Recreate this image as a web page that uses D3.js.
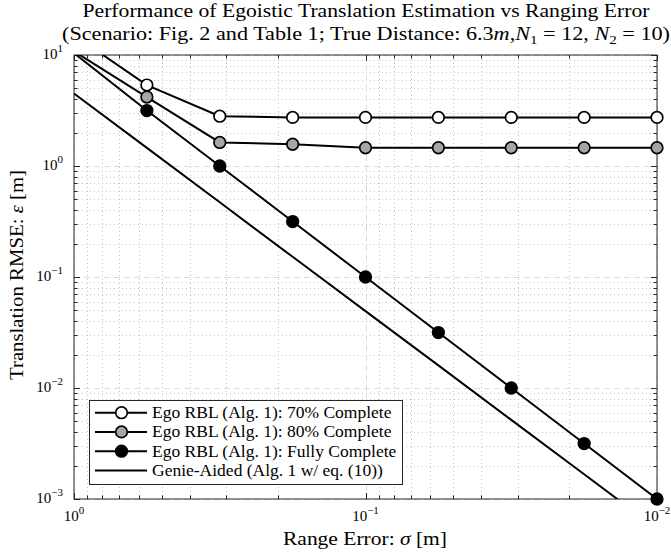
<!DOCTYPE html>
<html>
<head>
<meta charset="utf-8">
<script src="https://cdn.jsdelivr.net/npm/d3@7"></script>
<style>
  body { margin: 0; background: #fff; }
  text { font-family: "Liberation Serif", serif; fill: #000; }
</style>
</head>
<body>
<svg id="chart" width="671" height="556"></svg>
<script>
// sigma values on the x axis (range error, m)
var sigma = [1, 0.5623, 0.3162, 0.1778, 0.1, 0.05623, 0.03162, 0.01778, 0.01];
var ego70 = [15.1, 5.36, 2.81, 2.74, 2.74, 2.74, 2.74, 2.74, 2.74];
var ego80 = [10.8, 4.18, 1.63, 1.57, 1.46, 1.46, 1.46, 1.46, 1.46];
var egoFull = [10.4, 3.16, 1.0, 0.316, 0.1, 0.0316, 0.01, 0.00316, 0.001];
var genie = [4.5, 1.455, 0.471, 0.152, 0.0493, 0.016, 0.00516, 0.00167, 0.00054];

var xTicks = [1, 0.1, 0.01];
var xTickExp = ['0', '\u22121', '\u22122'];
var yTicks = [10, 1, 0.1, 0.01, 0.001];
var yTickExp = ['1', '0', '\u22121', '\u22122', '\u22123'];

var legendNames = ['Ego RBL (Alg. 1): 70% Complete',
                   'Ego RBL (Alg. 1): 80% Complete',
                   'Ego RBL (Alg. 1): Fully Complete',
                   'Genie-Aided (Alg. 1 w/ eq. (10))'];

var series = [
    {values: ego70, fill: '#ffffff', marker: true},
    {values: ego80, fill: '#a6a6a6', marker: true},
    {values: egoFull, fill: '#000000', marker: true},
    {values: genie, fill: null, marker: false}
];

var pLeft = 74, pRight = 657, pTop = 55, pBottom = 499;
var axisColor = '#262626';

var svg = d3.select('#chart');

var x = d3.scaleLog().domain([1, 0.01]).range([pLeft, pRight]);
var y = d3.scaleLog().domain([10, 0.001]).range([pTop, pBottom]);

var xAll = x.ticks();
var yAll = y.ticks();
var isMajor = function(v) {
    var l = Math.log10(v);
    return Math.abs(l - Math.round(l)) < 1e-6;
};
var xMinor = xAll.filter(function(v) { return !isMajor(v); });
var yMinor = yAll.filter(function(v) { return !isMajor(v); });

// grid
var grid = svg.append('g');
grid.selectAll('.xminor').data(xMinor).enter().append('line')
    .attr('x1', function(d) { return Math.round(x(d)) + 0.5; })
    .attr('x2', function(d) { return Math.round(x(d)) + 0.5; })
    .attr('y1', pTop).attr('y2', pBottom)
    .attr('stroke', '#c4c4c4').attr('stroke-width', 1)
    .attr('stroke-dasharray', '1,3');
grid.selectAll('.yminor').data(yMinor).enter().append('line')
    .attr('y1', function(d) { return Math.round(y(d)) + 0.5; })
    .attr('y2', function(d) { return Math.round(y(d)) + 0.5; })
    .attr('x1', pLeft).attr('x2', pRight)
    .attr('stroke', '#c4c4c4').attr('stroke-width', 1)
    .attr('stroke-dasharray', '1,3');
grid.selectAll('.xmajor').data(xTicks).enter().append('line')
    .attr('x1', function(d) { return Math.round(x(d)) + 0.5; })
    .attr('x2', function(d) { return Math.round(x(d)) + 0.5; })
    .attr('y1', pTop).attr('y2', pBottom)
    .attr('stroke', '#dcdcdc').attr('stroke-width', 1)
    .attr('stroke-dasharray', '6,4');
grid.selectAll('.ymajor').data(yTicks).enter().append('line')
    .attr('y1', function(d) { return Math.round(y(d)) + 0.5; })
    .attr('y2', function(d) { return Math.round(y(d)) + 0.5; })
    .attr('x1', pLeft).attr('x2', pRight)
    .attr('stroke', '#dcdcdc').attr('stroke-width', 1)
    .attr('stroke-dasharray', '6,4');

// axes box and inward ticks
var ax = svg.append('g').attr('stroke', axisColor).attr('stroke-width', 1);
ax.append('rect').attr('x', pLeft).attr('y', pTop)
    .attr('width', pRight - pLeft).attr('height', pBottom - pTop)
    .attr('fill', 'none');
xAll.forEach(function(v) {
    var len = isMajor(v) ? 6 : 3.5;
    var px = Math.round(x(v)) + 0.5;
    ax.append('line').attr('x1', px).attr('x2', px).attr('y1', pBottom).attr('y2', pBottom - len);
    ax.append('line').attr('x1', px).attr('x2', px).attr('y1', pTop).attr('y2', pTop + len);
});
yAll.forEach(function(v) {
    var len = isMajor(v) ? 6 : 3.5;
    var py = Math.round(y(v)) + 0.5;
    ax.append('line').attr('y1', py).attr('y2', py).attr('x1', pLeft).attr('x2', pLeft + len);
    ax.append('line').attr('y1', py).attr('y2', py).attr('x1', pRight).attr('x2', pRight - len);
});

// tick labels
xTicks.forEach(function(v, i) {
    var t = svg.append('text').attr('x', x(v)).attr('y', 521)
        .attr('text-anchor', 'middle').attr('font-size', 15);
    t.append('tspan').text('10');
    t.append('tspan').attr('dy', -7).attr('font-size', 11).text(xTickExp[i]);
});
yTicks.forEach(function(v, i) {
    var t = svg.append('text').attr('x', 63).attr('y', y(v) + 4)
        .attr('text-anchor', 'end').attr('font-size', 15);
    t.append('tspan').text('10');
    t.append('tspan').attr('dy', -7).attr('font-size', 11).text(yTickExp[i]);
});

// data
svg.append('clipPath').attr('id', 'plotclip').append('rect')
    .attr('x', pLeft).attr('y', pTop).attr('width', pRight - pLeft).attr('height', pBottom - pTop);

var line = d3.line()
    .x(function(d, i) { return x(sigma[i]); })
    .y(function(d) { return y(d); });

var data = svg.append('g');
series.forEach(function(s) {
    data.append('path')
        .attr('d', line(s.values))
        .attr('clip-path', 'url(#plotclip)')
        .attr('fill', 'none')
        .attr('stroke', '#000')
        .attr('stroke-width', 2);
});
series.forEach(function(s) {
    if (!s.marker) return;
    var pts = s.values.map(function(v, i) { return [sigma[i], v]; })
        .filter(function(p) { return p[1] <= 10 && p[1] >= 0.001; });
    data.selectAll(null).data(pts).enter().append('circle')
        .attr('cx', function(d) { return x(d[0]); })
        .attr('cy', function(d) { return y(d[1]); })
        .attr('r', 5.8)
        .attr('fill', s.fill)
        .attr('stroke', '#000')
        .attr('stroke-width', 1.7);
});

// titles
var t1 = svg.append('text').attr('x', 366).attr('y', 17)
    .attr('text-anchor', 'middle').attr('font-size', 19)
    .attr('textLength', 567).attr('lengthAdjust', 'spacingAndGlyphs')
    .text('Performance of Egoistic Translation Estimation vs Ranging Error');
var t2 = svg.append('text').attr('x', 366).attr('y', 40)
    .attr('text-anchor', 'middle').attr('font-size', 19)
    .attr('textLength', 608).attr('lengthAdjust', 'spacingAndGlyphs');
t2.append('tspan').text('(Scenario: Fig. 2 and Table 1; True Distance: 6.3');
t2.append('tspan').attr('font-style', 'italic').text('m');
t2.append('tspan').text(',');
t2.append('tspan').attr('font-style', 'italic').text('N');
t2.append('tspan').attr('font-size', 13).attr('dy', 4).text('1');
t2.append('tspan').attr('dy', -4).text(' = 12, ');
t2.append('tspan').attr('font-style', 'italic').text('N');
t2.append('tspan').attr('font-size', 13).attr('dy', 4).text('2');
t2.append('tspan').attr('dy', -4).text(' = 10)');

var xl = svg.append('text').attr('x', 365).attr('y', 545)
    .attr('text-anchor', 'middle').attr('font-size', 19)
    .attr('textLength', 164).attr('lengthAdjust', 'spacingAndGlyphs');
xl.append('tspan').text('Range Error: ');
xl.append('tspan').attr('font-style', 'italic').text('\u03c3');
xl.append('tspan').text(' [m]');

var yl = svg.append('text')
    .attr('transform', 'translate(23,275) rotate(-90)')
    .attr('text-anchor', 'middle').attr('font-size', 19)
    .attr('textLength', 210).attr('lengthAdjust', 'spacingAndGlyphs');
yl.append('tspan').text('Translation RMSE: ');
yl.append('tspan').attr('font-style', 'italic').text('\u03b5');
yl.append('tspan').text(' [m]');

// legend
var lg = svg.append('g');
lg.append('rect').attr('x', 89.5).attr('y', 400.5).attr('width', 313).attr('height', 84)
    .attr('fill', '#fff').attr('stroke', axisColor).attr('stroke-width', 1);
var rowY = [412.7, 431.9, 451.2, 470.6];
series.forEach(function(s, i) {
    lg.append('line').attr('x1', 95).attr('x2', 147)
        .attr('y1', rowY[i]).attr('y2', rowY[i])
        .attr('stroke', '#000').attr('stroke-width', 2);
    if (s.marker) {
        lg.append('circle').attr('cx', 121.5).attr('cy', rowY[i]).attr('r', 5.8)
            .attr('fill', s.fill).attr('stroke', '#000').attr('stroke-width', 1.7);
    }
    lg.append('text').attr('x', 152).attr('y', rowY[i] + 5.5)
        .attr('font-size', 17.5).text(legendNames[i]);
});
</script>
</body>
</html>
